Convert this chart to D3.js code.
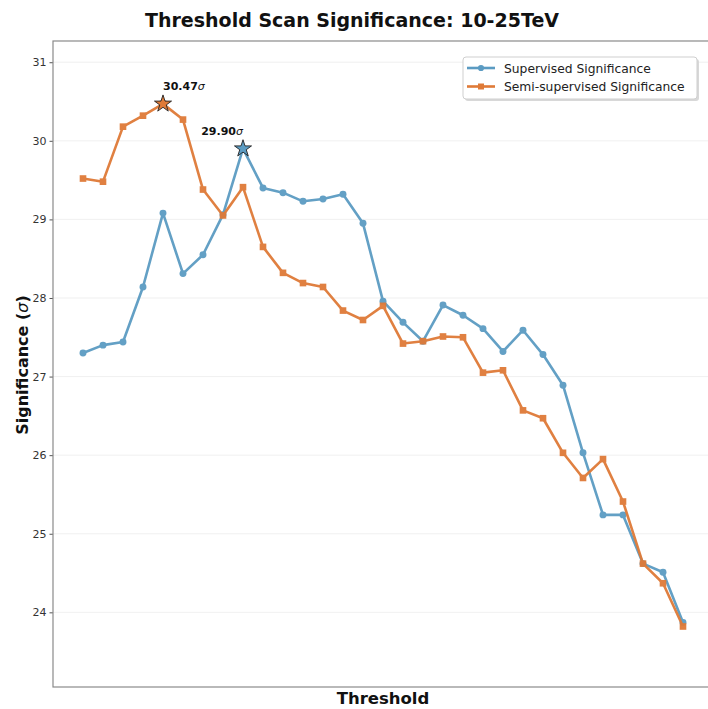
<!DOCTYPE html>
<html>
<head>
<meta charset="utf-8">
<script src="https://cdn.jsdelivr.net/npm/d3@7"></script>
<style>
  body { margin: 0; background: #fff; }
  svg { font-family: "DejaVu Sans", sans-serif; display: block; }
</style>
</head>
<body>
<div id="container"></div>
<script>
const thresholds = d3.range(31); // 31 threshold steps, x labels hidden
const supervised = [27.30, 27.40, 27.44, 28.14, 29.08, 28.31, 28.55, 29.06, 29.90, 29.40,
  29.34, 29.23, 29.26, 29.32, 28.95, 27.96, 27.69, 27.45, 27.91, 27.78,
  27.61, 27.32, 27.59, 27.28, 26.89, 26.03, 25.24, 25.24, 24.62, 24.51, 23.87];
const semiSupervised = [29.52, 29.48, 30.18, 30.32, 30.47, 30.27, 29.38, 29.05, 29.41, 28.65,
  28.32, 28.19, 28.14, 27.84, 27.72, 27.90, 27.42, 27.45, 27.51, 27.50,
  27.05, 27.08, 26.57, 26.47, 26.03, 25.71, 25.95, 25.41, 24.62, 24.37, 23.82];
const yTicks = [24, 25, 26, 27, 28, 29, 30, 31];
const seriesNames = ["Supervised Significance", "Semi-supervised Significance"];

const width = 708, height = 709;
const margin = { top: 41, left: 53, right: -5, bottom: 22 };
const blue = "#5b9bc2", orange = "#df7a37";

const svg = d3.select("#container").append("svg")
  .attr("width", width).attr("height", height);

const x = d3.scaleLinear()
  .domain([-1.5, 31.5])
  .range([margin.left, width - margin.right]);
const y = d3.scaleLinear()
  .domain([23.05, 31.27])
  .range([height - margin.bottom, margin.top]);

// grid
svg.append("g").selectAll("line").data(yTicks).enter().append("line")
  .attr("x1", margin.left).attr("x2", width - margin.right)
  .attr("y1", d => y(d)).attr("y2", d => y(d))
  .attr("stroke", "#ececec").attr("stroke-width", 0.8);

// y axis
const yAxis = d3.axisLeft(y).tickValues(yTicks).tickSize(3.5).tickPadding(3).tickFormat(d3.format("d"));
const gy = svg.append("g").attr("transform", `translate(${margin.left},0)`).call(yAxis);
gy.select(".domain").remove();
gy.selectAll(".tick line").attr("stroke", "#555");
gy.selectAll(".tick text").attr("fill", "#333").style("font-size", "11px").style("font-family", "DejaVu Sans");

// frame
svg.append("rect")
  .attr("x", margin.left).attr("y", margin.top)
  .attr("width", width - margin.right - margin.left)
  .attr("height", y(23.05) - margin.top)
  .attr("fill", "none").attr("stroke", "#8a8a8a").attr("stroke-width", 1.2);

const line = d3.line().x((d, i) => x(thresholds[i])).y(d => y(d));

function drawSeries(vals, color, shape) {
  const g = svg.append("g").attr("opacity", 0.95);
  g.append("path").datum(vals).attr("d", line)
    .attr("fill", "none").attr("stroke", color).attr("stroke-width", 2.6)
    .attr("stroke-linejoin", "round");
  const sym = d3.symbol().type(shape).size(shape === d3.symbolSquare ? 44 : 38);
  g.selectAll("path.m").data(vals).enter().append("path").attr("class", "m")
    .attr("d", sym)
    .attr("transform", (d, i) => `translate(${x(thresholds[i])},${y(d)})`)
    .attr("fill", color);
}
drawSeries(supervised, blue, d3.symbolCircle);
drawSeries(semiSupervised, orange, d3.symbolSquare);

// peak stars and labels
function peak(vals, color, anchor) {
  const i = d3.maxIndex(vals);
  const px = x(thresholds[i]), py = y(vals[i]);
  svg.append("path")
    .attr("d", d3.symbol().type(d3.symbolStar).size(90))
    .attr("transform", `translate(${px},${py})`)
    .attr("fill", color).attr("stroke", "#222").attr("stroke-width", 0.9);
  const t = svg.append("text")
    .attr("x", px).attr("y", py - 14)
    .attr("text-anchor", anchor)
    .style("font-size", "11px").style("font-weight", "bold").attr("fill", "#111");
  t.append("tspan").text(vals[i].toFixed(2));
  t.append("tspan").text("σ").style("font-style", "italic").style("font-weight", "normal");
}
peak(semiSupervised, orange, "start");
peak(supervised, blue, "end");

// legend
const lg = svg.append("g").attr("transform", "translate(463,57)");
lg.append("rect").attr("x", 2).attr("y", 2).attr("width", 234).attr("height", 42).attr("rx", 3)
  .attr("fill", "#d8d8d8");
lg.append("rect").attr("width", 234).attr("height", 42).attr("rx", 3)
  .attr("fill", "#fff").attr("stroke", "#cfcfcf").attr("stroke-width", 1);
[[blue, d3.symbolCircle], [orange, d3.symbolSquare]].forEach(([c, s], k) => {
  const yy = 11 + k * 18.5;
  lg.append("line").attr("x1", 4).attr("x2", 32).attr("y1", yy).attr("y2", yy)
    .attr("stroke", c).attr("stroke-width", 2.6);
  lg.append("path").attr("d", d3.symbol().type(s).size(s === d3.symbolSquare ? 36 : 30))
    .attr("transform", `translate(18,${yy})`).attr("fill", c);
  lg.append("text").attr("x", 41).attr("y", yy + 4.5).text(seriesNames[k])
    .style("font-size", "12.3px").attr("fill", "#222");
});

// titles
svg.append("text").attr("x", 352).attr("y", 27).attr("text-anchor", "middle")
  .style("font-size", "19px").style("font-weight", "bold").attr("fill", "#111")
  .text("Threshold Scan Significance: 10-25TeV");
svg.append("text").attr("x", 383).attr("y", 704).attr("text-anchor", "middle")
  .style("font-size", "16.5px").style("font-weight", "bold").attr("fill", "#111")
  .text("Threshold");
const yl = svg.append("text").attr("transform", "translate(28,365) rotate(-90)")
  .attr("text-anchor", "middle")
  .style("font-size", "16px").style("font-weight", "bold").attr("fill", "#111");
yl.append("tspan").text("Significance (");
yl.append("tspan").text("σ").style("font-style", "italic").style("font-weight", "normal");
yl.append("tspan").text(")");
</script>
</body>
</html>
